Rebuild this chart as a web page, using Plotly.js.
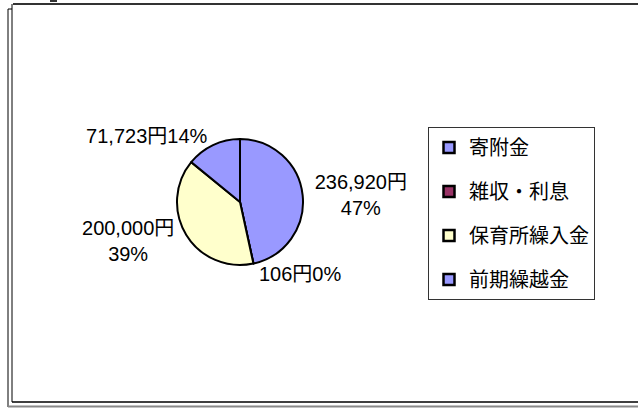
<!DOCTYPE html>
<html><head><meta charset="utf-8">
<script src="https://cdn.plot.ly/plotly-3.0.1.min.js"></script>
<style>html,body{margin:0;padding:0;background:#fff}#chart{width:638px;height:408px}</style>
</head><body><div id="chart"></div>
<script>
const categories = ['寄附金', '雑収・利息', '保育所繰入金', '前期繰越金'];
const values = [236920, 106, 200000, 71723];
const colors = ['#9999FF', '#993366', '#FFFFCC', '#9999FF'];
const labelTemplates = [
  '%{value:,}円<br>%{percent:.0%}',
  '%{value:,}円%{percent:.0%}',
  '%{value:,}円<br>%{percent:.0%}',
  '%{value:,}円%{percent:.0%}'
];

const W = 638, H = 408;
const X = px => px / W;
const Y = px => 1 - px / H;
const FONT = '"Noto Sans CJK JP", "Noto Sans", sans-serif';
const LABEL_FONT = '"Liberation Sans", "Noto Sans CJK JP", sans-serif';

const pie = {
  type: 'pie',
  labels: categories,
  values: values,
  sort: false,
  direction: 'clockwise',
  rotation: 0,
  marker: { colors: colors, line: { color: '#000', width: 2 } },
  texttemplate: labelTemplates,
  textposition: 'outside',
  outsidetextfont: { family: LABEL_FONT, size: 20, color: '#000' },
  automargin: false,
  showlegend: false,
  hoverinfo: 'label+value+percent',
  domain: { x: [X(177), X(303)], y: [Y(265), Y(139)] }
};

const legendTraces = categories.map((c, i) => ({
  type: 'scatter',
  mode: 'markers',
  x: [null], y: [null],
  name: c,
  legendgroup: 'g' + i,
  marker: { symbol: 'square', size: 11, color: colors[i], line: { color: '#000', width: 2.5 } },
  showlegend: true,
  hoverinfo: 'skip'
}));

const line = (x0, y0, x1, y1, color, width) => ({
  type: 'line', xref: 'paper', yref: 'paper',
  x0: X(x0), y0: Y(y0), x1: X(x1), y1: Y(y1),
  line: { color: color, width: width }
});

const layout = {
  width: W, height: H,
  margin: { l: 0, r: 0, t: 0, b: 0 },
  paper_bgcolor: '#fff',
  plot_bgcolor: 'rgba(0,0,0,0)',
  font: { family: FONT, size: 20, color: '#000' },
  xaxis: { visible: false, domain: [0.9, 1] },
  yaxis: { visible: false, domain: [0.9, 1] },
  showlegend: true,
  legend: {
    x: X(428), y: Y(127), xanchor: 'left', yanchor: 'top',
    bgcolor: '#fff', bordercolor: '#333', borderwidth: 1,
    font: { family: FONT, size: 20, color: '#000' },
    traceorder: 'grouped', tracegroupgap: 15,
    itemclick: false, itemdoubleclick: false
  },
  shapes: [
    line(13, 4, 638, 4, '#333', 2),
    line(12, 4, 12, 402, '#000', 1),
    line(12, 402, 638, 402, '#000', 1.5),
    line(8, 9, 8, 407, '#000', 1),
    line(8, 9, 12, 9, '#000', 1),
    line(8, 406.5, 638, 406.5, '#888', 2),
    { type: 'rect', xref: 'paper', yref: 'paper', x0: X(50), x1: X(57), y0: Y(2), y1: Y(0), fillcolor: '#333', line: { width: 0 } }
  ]
};

Plotly.newPlot('chart', [pie, ...legendTraces], layout, { staticPlot: true, displayModeBar: false });
</script>
</body></html>
